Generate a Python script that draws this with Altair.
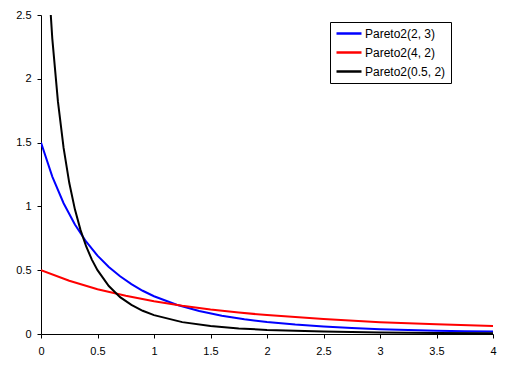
import altair as alt
import pandas as pd

series_names = ["Pareto2(2, 3)", "Pareto2(4, 2)", "Pareto2(0.5, 2)"]
series_colors = ["#0000FF", "#FF0000", "#000000"]

x_blue = [0, 0.1, 0.2, 0.3, 0.4, 0.5, 0.6, 0.7, 0.8, 0.9, 1.0, 1.2, 1.4, 1.6, 1.8,
          2.0, 2.25, 2.5, 2.75, 3.0, 3.25, 3.5, 3.75, 4.0]
y_blue = [1.5, 1.234, 1.025, 0.858, 0.723, 0.614, 0.525, 0.452, 0.391, 0.339, 0.296,
          0.229, 0.180, 0.143, 0.115, 0.094, 0.074, 0.059, 0.047, 0.038, 0.032, 0.026,
          0.022, 0.019]

x_red = [0, 0.25, 0.5, 0.75, 1.0, 1.25, 1.5, 1.75, 2.0, 2.5, 3.0, 3.5, 4.0]
y_red = [0.5, 0.417, 0.351, 0.299, 0.256, 0.221, 0.192, 0.168, 0.148, 0.117, 0.093,
         0.076, 0.063]

x_black = [0, 0.05, 0.1, 0.15, 0.2, 0.25, 0.3, 0.35, 0.4, 0.45, 0.5, 0.6, 0.7, 0.8,
           0.9, 1.0, 1.25, 1.5, 1.75, 2.0, 2.5, 3.0, 3.5, 4.0]
y_black = [4.0, 3.005, 2.315, 1.821, 1.458, 1.185, 0.977, 0.814, 0.686, 0.583, 0.5,
           0.376, 0.289, 0.228, 0.182, 0.148, 0.093, 0.063, 0.044, 0.032, 0.019, 0.012,
           0.008, 0.006]

x_ticks = [0, 0.5, 1, 1.5, 2, 2.5, 3, 3.5, 4]
y_ticks = [0, 0.5, 1, 1.5, 2, 2.5]

rows = []
for name, xs, ys in zip(series_names, [x_blue, x_red, x_black], [y_blue, y_red, y_black]):
    for xv, yv in zip(xs, ys):
        rows.append({"series": name, "x": xv, "y": yv})
df = pd.DataFrame(rows)

font = "Liberation Sans"

chart = alt.Chart(df).mark_line(strokeWidth=2, clip=True).encode(
    x=alt.X("x:Q", scale=alt.Scale(domain=[0, 4], nice=False, zero=False),
            axis=alt.Axis(values=x_ticks, format=".1~f", title=None, grid=False,
                          labelPadding=7)),
    y=alt.Y("y:Q", scale=alt.Scale(domain=[0, 2.5], nice=False),
            axis=alt.Axis(values=y_ticks, format=".1~f", title=None, grid=False,
                          labelPadding=6)),
    color=alt.Color("series:N",
                    scale=alt.Scale(domain=series_names, range=series_colors),
                    legend=alt.Legend(title=None, orient="none", legendX=289, legendY=7,
                                      symbolType="M-1,0H4", symbolSize=100,
                                      symbolStrokeWidth=2.5, labelFontSize=12,
                                      labelFont=font, labelColor="black",
                                      strokeColor="black", fillColor="white",
                                      padding=5, rowPadding=6, labelOffset=17)),
    order=alt.Order("x:Q"),
).properties(
    width=452, height=319,
    autosize=alt.AutoSizeParams(type="none"),
    padding={"left": 33, "top": 7, "right": 10, "bottom": 30},
).configure_view(stroke=None).configure_axis(
    domainColor="black", tickColor="black", labelColor="black",
    labelFont=font, labelFontSize=11, tickSize=4, domainWidth=1, tickWidth=1,
    labelFlush=False,
)

chart.save("out.html", embed_options={"renderer": "svg", "actions": False})
